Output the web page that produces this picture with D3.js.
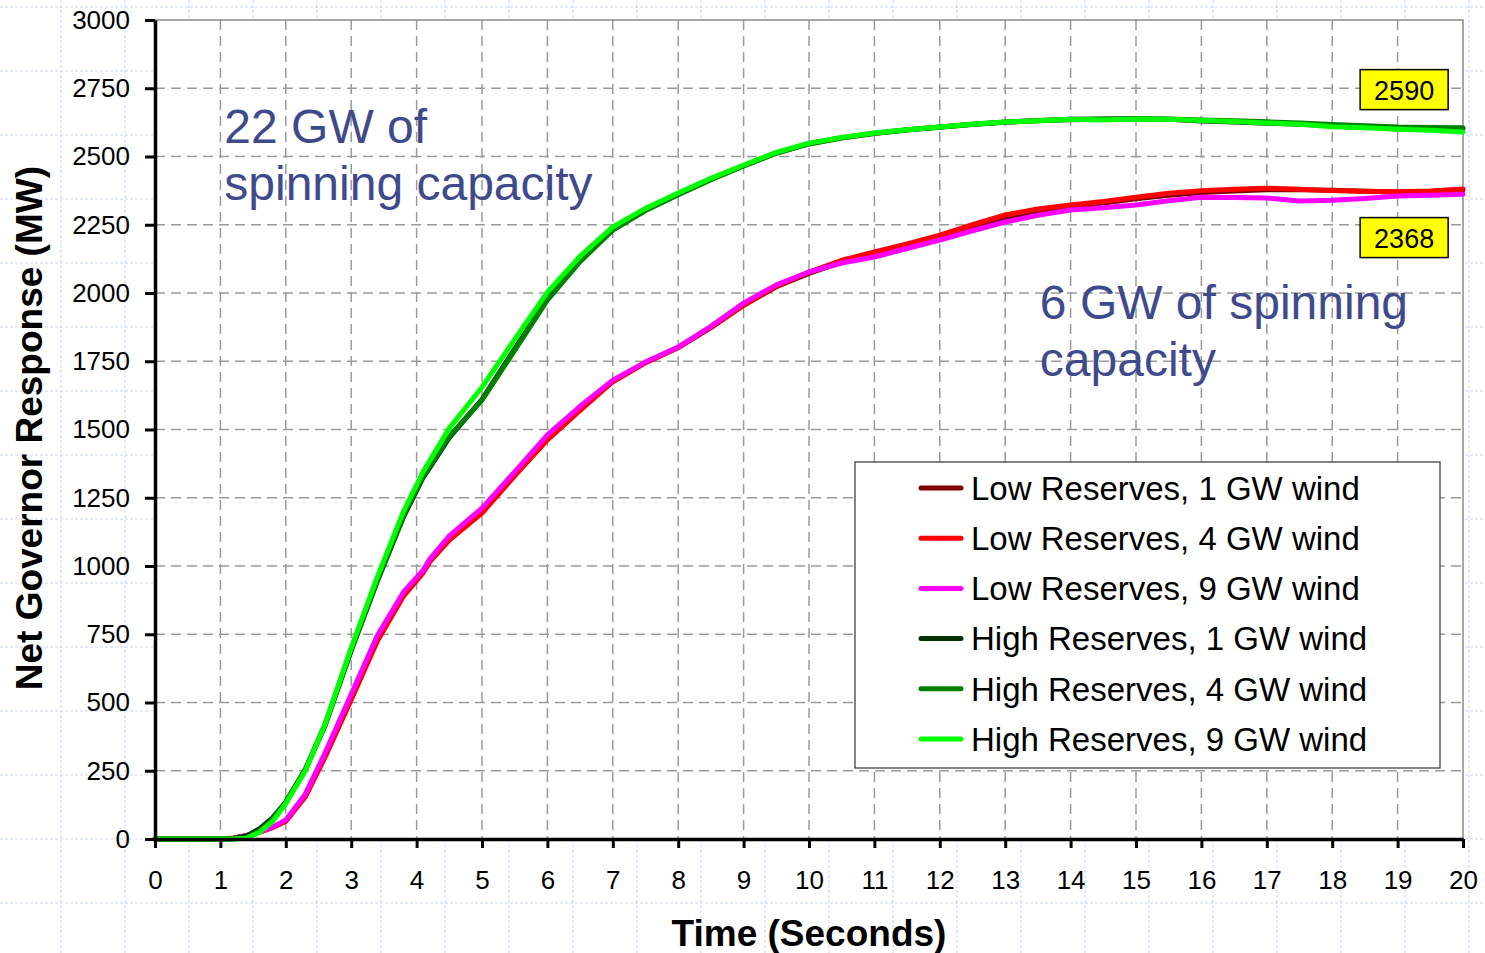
<!DOCTYPE html>
<html>
<head>
<meta charset="utf-8">
<script src="https://cdn.jsdelivr.net/npm/d3@7"></script>
<style>
  body { margin: 0; background: #fff; }
  svg { display: block; }
</style>
</head>
<body>
<div class="chart"></div>
<script>
// time axis (seconds), shared by all series
const timeSec = [0, 1, 1.2, 1.4, 1.6, 1.8, 2, 2.3, 2.6, 3, 3.4, 3.8, 4.1, 4.2, 4.5, 5, 5.5, 6, 6.5, 7, 7.5, 8, 8.5, 9, 9.5, 10, 10.5, 11, 11.5, 12, 12.5, 13, 13.5, 14, 14.5, 15, 15.5, 16, 16.5, 17, 17.5, 18, 18.5, 19, 19.5, 20];

const lowRes1GW = [0, 0, 4, 13, 26, 43, 66, 158, 305, 515, 730, 893, 978, 1017, 1098, 1198, 1335, 1465, 1575, 1676, 1745, 1800, 1873, 1955, 2023, 2072, 2113, 2143, 2173, 2205, 2240, 2276, 2298, 2316, 2330, 2345, 2358, 2368, 2374, 2378, 2378, 2376, 2373, 2370, 2372, 2378];
const lowRes4GW = [0, 0, 3, 12, 25, 42, 65, 155, 300, 510, 725, 890, 975, 1015, 1095, 1194, 1330, 1462, 1570, 1675, 1745, 1800, 1875, 1955, 2025, 2077, 2120, 2150, 2180, 2212, 2250, 2286, 2308, 2322, 2335, 2351, 2365, 2375, 2380, 2384, 2380, 2375, 2373, 2371, 2374, 2381];
const lowRes9GW = [0, 0, 3, 12, 26, 44, 70, 165, 315, 530, 745, 905, 985, 1025, 1110, 1212, 1345, 1480, 1585, 1681, 1747, 1802, 1878, 1963, 2030, 2077, 2110, 2132, 2163, 2194, 2228, 2260, 2285, 2304, 2312, 2322, 2338, 2351, 2350, 2348, 2337, 2340, 2346, 2355, 2358, 2362];
const highRes1GW = [0, 0, 2, 10, 38, 78, 135, 255, 415, 690, 945, 1180, 1325, 1360, 1470, 1610, 1795, 1978, 2120, 2232, 2304, 2362, 2416, 2466, 2513, 2547, 2569, 2585, 2598, 2608, 2618, 2626, 2632, 2636, 2637, 2638, 2636, 2630, 2626, 2622, 2618, 2614, 2610, 2606, 2604, 2603];
const highRes4GW = [0, 0, 0, 5, 30, 72, 135, 255, 420, 695, 950, 1185, 1330, 1365, 1475, 1608, 1790, 1974, 2115, 2230, 2302, 2360, 2415, 2465, 2512, 2546, 2568, 2584, 2597, 2607, 2617, 2625, 2631, 2635, 2636, 2638, 2637, 2634, 2631, 2627, 2623, 2617, 2613, 2608, 2606, 2605];
const highRes9GW = [0, 0, 0, 3, 25, 65, 130, 250, 420, 700, 960, 1200, 1345, 1385, 1505, 1655, 1830, 2003, 2135, 2242, 2310, 2366, 2420, 2469, 2515, 2549, 2570, 2586, 2598, 2608, 2618, 2626, 2631, 2636, 2634, 2637, 2636, 2632, 2628, 2623, 2618, 2609, 2605, 2600, 2596, 2590];

const seriesNames = ["Low Reserves, 1 GW wind", "Low Reserves, 4 GW wind", "Low Reserves, 9 GW wind",
  "High Reserves, 1 GW wind", "High Reserves, 4 GW wind", "High Reserves, 9 GW wind"];
const seriesValues = [lowRes1GW, lowRes4GW, lowRes9GW, highRes1GW, highRes4GW, highRes9GW];

const xTicks = d3.range(0, 21, 1);
const yTicks = d3.range(0, 3001, 250);

// end-value callouts
const calloutTexts = ["2590", "2368"];
const calloutAt = [[19.1, 2745], [19.1, 2203]];

const colors = ["#800000", "#ff0000", "#ff00ff", "#003300", "#008000", "#00ff00"];
const noteColor = "#3f4a8c";

const W = 1485, H = 953;
const margin = { top: 20, right: 22, bottom: 114, left: 155 };
const width = W - margin.left - margin.right,
  height = H - margin.top - margin.bottom;

const svg = d3.select(".chart")
  .append("svg")
  .attr("width", W)
  .attr("height", H);

// faint slide grid behind everything
const bg = svg.append("g")
  .attr("stroke", "#c9d5f3")
  .attr("stroke-width", 1)
  .attr("stroke-dasharray", "3,2");
bg.selectAll("line.v").data(d3.range(-3, W, 64)).join("line")
  .attr("class", "v").attr("x1", d => d).attr("x2", d => d).attr("y1", 0).attr("y2", H);
bg.selectAll("line.h").data(d3.range(7, H, 64)).join("line")
  .attr("class", "h").attr("y1", d => d).attr("y2", d => d).attr("x1", 0).attr("x2", W);

const g = svg.append("g")
  .attr("transform", `translate(${margin.left},${margin.top})`);

const x = d3.scaleLinear().domain([0, 20]).range([0, width]);
const y = d3.scaleLinear().domain([0, 3000]).range([height, 0]);

g.append("rect")
  .attr("width", width)
  .attr("height", height)
  .attr("fill", "#fff");

// dashed grid
g.append("g")
  .selectAll("line")
  .data(xTicks.slice(1, -1))
  .join("line")
  .attr("x1", d => x(d)).attr("x2", d => x(d))
  .attr("y1", 0).attr("y2", height)
  .attr("stroke", "#9a9a9a")
  .attr("stroke-width", 1.5)
  .attr("stroke-dasharray", "10,6");

g.append("g")
  .selectAll("line")
  .data(yTicks.slice(1, -1))
  .join("line")
  .attr("y1", d => y(d)).attr("y2", d => y(d))
  .attr("x1", 0).attr("x2", width)
  .attr("stroke", "#9a9a9a")
  .attr("stroke-width", 1.5)
  .attr("stroke-dasharray", "10,6");

// top and right frame
g.append("path")
  .attr("d", `M0,0H${width}V${height}`)
  .attr("fill", "none")
  .attr("stroke", "#8a8a8a")
  .attr("stroke-width", 1.5);

// curves
const line = d3.line()
  .x((d, i) => x(timeSec[i]))
  .y(d => y(d));

g.append("g")
  .selectAll("path")
  .data(seriesValues)
  .join("path")
  .attr("fill", "none")
  .attr("stroke", (d, i) => colors[i])
  .attr("stroke-width", 5)
  .attr("stroke-linejoin", "round")
  .attr("stroke-linecap", "round")
  .attr("d", line);

// axes
const xAxis = g.append("g")
  .attr("transform", `translate(0,${height})`)
  .call(d3.axisBottom(x).tickValues(xTicks).tickFormat(d3.format("d")).tickSize(9).tickSizeOuter(0).tickPadding(23));

const yAxis = g.append("g")
  .call(d3.axisLeft(y).tickValues(yTicks).tickFormat(d3.format("d")).tickSize(10).tickSizeOuter(0).tickPadding(15));

[xAxis, yAxis].forEach(ax => {
  ax.select(".domain").attr("stroke", "#000").attr("stroke-width", 3.5);
  ax.selectAll(".tick line").attr("stroke", "#000").attr("stroke-width", 3);
  ax.selectAll(".tick text")
    .attr("fill", "#000")
    .style("font-family", "'Liberation Sans', Arial, sans-serif")
    .style("font-size", "26px");
});

// axis titles
svg.append("text")
  .attr("x", margin.left + width / 2)
  .attr("y", 946)
  .attr("text-anchor", "middle")
  .style("font-family", "'Liberation Sans', Arial, sans-serif")
  .style("font-weight", "bold")
  .style("font-size", "37px")
  .text("Time (Seconds)");

svg.append("text")
  .attr("transform", `translate(42,${margin.top + y(1505)}) rotate(-90)`)
  .attr("text-anchor", "middle")
  .style("font-family", "'Liberation Sans', Arial, sans-serif")
  .style("font-weight", "bold")
  .style("font-size", "37px")
  .text("Net Governor Response (MW)");

// notes
const notes = [
  { lines: ["22 GW of", "spinning capacity"], t: 1.06, v: 2550 },
  { lines: ["6 GW of spinning", "capacity"], t: 13.53, v: 1905 }
];
notes.forEach(n => {
  const tx = g.append("text")
    .attr("x", x(n.t))
    .attr("y", y(n.v))
    .attr("fill", noteColor)
    .style("font-family", "'Liberation Sans', Arial, sans-serif")
    .style("font-size", "48px");
  n.lines.forEach((l, i) => {
    tx.append("tspan").attr("x", x(n.t)).attr("dy", i === 0 ? 0 : 57).text(l);
  });
});

// callouts
calloutTexts.forEach((txt, i) => {
  const cx = x(calloutAt[i][0]), cy = y(calloutAt[i][1]);
  g.append("rect")
    .attr("x", cx - 44).attr("y", cy - 20)
    .attr("width", 88).attr("height", 40)
    .attr("fill", "#ffff00")
    .attr("stroke", "#000")
    .attr("stroke-width", 1.5);
  g.append("text")
    .attr("x", cx).attr("y", cy + 10)
    .attr("text-anchor", "middle")
    .style("font-family", "'Liberation Sans', Arial, sans-serif")
    .style("font-size", "27px")
    .text(txt);
});

// legend
const legend = svg.append("g").attr("transform", "translate(855,462)");
legend.append("rect")
  .attr("width", 585).attr("height", 306)
  .attr("fill", "#fff")
  .attr("stroke", "#333")
  .attr("stroke-width", 1.2);

const item = legend.selectAll("g.item")
  .data(seriesNames)
  .join("g")
  .attr("class", "item")
  .attr("transform", (d, i) => `translate(0,${26 + i * 50.2})`);

item.append("line")
  .attr("x1", 66).attr("x2", 106)
  .attr("stroke", (d, i) => colors[i])
  .attr("stroke-width", 5)
  .attr("stroke-linecap", "round");

item.append("text")
  .attr("x", 116)
  .attr("dy", "0.36em")
  .style("font-family", "'Liberation Sans', Arial, sans-serif")
  .style("font-size", "33px")
  .text(d => d);
</script>
</body>
</html>
